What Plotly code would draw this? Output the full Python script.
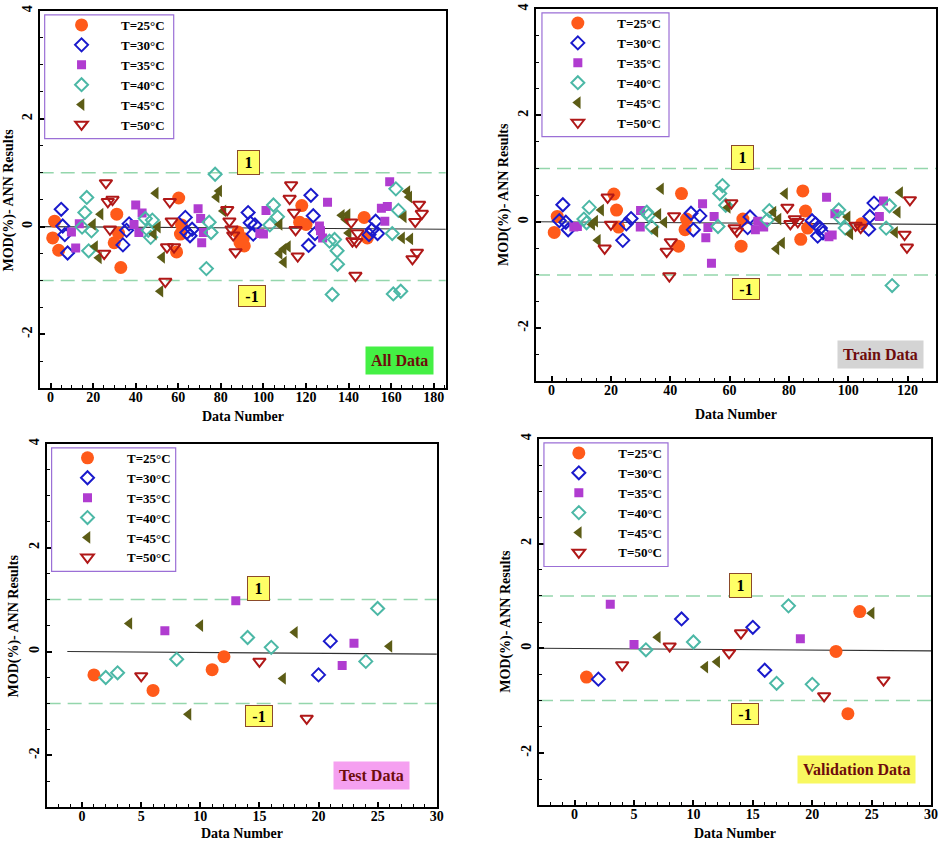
import plotly.graph_objects as go

W, H = 945, 843
FONT = "Liberation Serif"

# ------------------------------------------------------------------ data
labels = ["T=25°C", "T=30°C", "T=35°C", "T=40°C", "T=45°C", "T=50°C"]

# All Data
all_x_25 = [1.9, 1.0, 3.8, 31.1, 29.9, 33.0, 31.9, 60.2, 59.2, 61.5, 61.0, 88.0, 89.0, 90.5, 91.0, 118.0, 117.0, 120.0, 147.3, 148.8]
all_y_25 = [0.10, -0.21, -0.44, 0.23, -0.30, -0.76, -0.12, 0.53, -0.47, 0.03, -0.14, -0.10, -0.30, -0.22, -0.36, 0.39, 0.08, 0.04, 0.17, -0.21]
all_x_30 = [5.0, 5.7, 6.7, 8.0, 34.0, 35.7, 36.9, 63.3, 64.0, 65.5, 66.5, 92.8, 93.8, 95.2, 96.0, 122.3, 123.4, 124.2, 121.2, 149.6, 151.0, 152.7, 153.6]
all_y_30 = [0.32, 0.01, -0.15, -0.49, -0.34, -0.07, 0.05, 0.17, -0.11, -0.17, -0.05, 0.26, 0.07, -0.14, 0.03, 0.58, 0.20, -0.13, -0.35, -0.15, -0.06, 0.10, -0.13]
all_x_35 = [11.8, 9.8, 13.5, 40.0, 41.5, 39.2, 43.0, 69.3, 70.5, 71.0, 71.8, 101.2, 98.3, 100.0, 130.1, 126.3, 127.8, 126.8, 159.3, 155.4, 158.2, 157.0]
all_y_35 = [-0.40, -0.10, 0.05, 0.40, -0.11, 0.04, 0.25, 0.33, 0.15, -0.30, -0.11, 0.30, -0.13, -0.14, 0.45, 0.01, -0.21, -0.08, 0.83, 0.34, 0.37, 0.10]
all_x_40 = [17.0, 16.1, 14.8, 19.2, 17.9, 44.5, 47.8, 45.9, 47.0, 77.3, 74.5, 75.4, 73.2, 104.7, 106.6, 103.0, 131.0, 133.4, 134.6, 134.8, 132.3, 162.2, 163.4, 160.5, 161.0, 164.5]
all_y_40 = [0.54, 0.26, -0.01, -0.08, -0.45, 0.15, 0.12, -0.07, -0.20, 0.97, 0.08, -0.11, -0.78, 0.40, 0.18, 0.03, -0.27, -0.24, -0.45, -0.70, -1.26, 0.70, 0.30, -0.13, -1.25, -1.20]
all_x_45 = [23.5, 19.9, 20.9, 22.7, 49.4, 50.4, 48.5, 52.4, 51.6, 79.2, 78.0, 81.2, 107.6, 107.6, 109.5, 109.6, 111.5, 136.8, 138.7, 139.5, 140.0, 167.6, 168.5, 165.9, 165.1, 169.0]
all_y_45 = [0.23, 0.04, -0.37, -0.58, 0.62, -0.01, -0.14, -0.57, -1.20, 0.66, 0.55, 0.29, 0.04, -0.50, -0.42, -0.66, -0.37, 0.21, 0.13, 0.22, -0.12, 0.65, 0.55, 0.18, -0.21, -0.23]
all_x_50 = [26.0, 26.9, 29.1, 27.9, 25.2, 56.0, 56.9, 54.7, 58.0, 53.9, 83.0, 84.0, 85.8, 85.0, 86.9, 113.0, 112.3, 114.4, 115.1, 116.1, 141.2, 144.2, 141.8, 143.6, 143.2, 173.1, 174.4, 171.3, 172.1, 170.0]
all_y_50 = [0.81, 0.46, 0.50, -0.05, -0.50, 0.46, 0.10, -0.38, -0.38, -1.02, 0.31, 0.10, -0.16, -0.05, -0.47, 0.77, 0.52, 0.26, -0.06, -0.55, 0.08, -0.12, -0.27, -0.28, -0.91, 0.41, 0.24, 0.09, -0.48, -0.60]

# Train Data
train_x_25 = [0.9, 1.9, 21.0, 21.9, 22.6, 43.8, 42.8, 45.0, 45.5, 63.9, 64.5, 84.7, 85.6, 84.0, 86.3, 104.5]
train_y_25 = [-0.20, 0.10, 0.52, 0.22, -0.10, 0.53, -0.46, -0.15, 0.05, -0.46, 0.05, 0.58, 0.20, -0.33, -0.12, -0.04]
train_x_30 = [2.6, 3.8, 4.8, 5.6, 24.0, 25.2, 26.8, 47.0, 47.8, 50.0, 66.1, 66.9, 87.8, 89.0, 89.7, 90.6, 91.5, 108.7, 107.3, 106.9]
train_y_30 = [0.02, 0.32, -0.01, -0.15, -0.35, -0.04, 0.06, 0.16, -0.15, 0.11, -0.11, 0.09, 0.02, -0.04, -0.27, -0.12, -0.21, 0.35, 0.10, -0.14]
train_x_35 = [7.5, 8.7, 30.0, 29.9, 50.9, 52.0, 52.7, 54.8, 53.9, 69.5, 68.7, 71.5, 92.7, 95.5, 94.6, 93.5, 110.5, 111.9]
train_y_35 = [-0.10, -0.09, 0.21, -0.10, 0.34, -0.30, -0.11, 0.10, -0.78, 0.01, -0.15, -0.10, 0.46, 0.15, -0.25, -0.28, 0.10, 0.39]
train_x_40 = [10.9, 12.7, 11.8, 32.1, 32.7, 33.8, 57.6, 56.7, 58.7, 56.1, 73.4, 72.7, 96.8, 97.4, 99.0, 113.9, 112.8, 114.8]
train_y_40 = [0.05, 0.27, -0.02, 0.18, 0.12, -0.10, 0.68, 0.53, 0.31, -0.09, 0.21, 0.03, 0.22, 0.07, -0.12, 0.30, -0.12, -1.20]
train_x_45 = [13.7, 14.7, 16.7, 15.6, 36.9, 36.0, 35.0, 38.0, 59.4, 74.8, 76.5, 78.7, 75.8, 77.7, 99.8, 100.7, 117.5, 116.7, 115.8]
train_y_45 = [-0.05, 0.01, 0.22, -0.35, 0.62, 0.14, -0.18, -0.01, 0.27, 0.18, 0.05, 0.53, -0.51, -0.40, 0.09, -0.23, 0.55, 0.18, -0.20]
train_x_50 = [18.9, 20.0, 17.9, 38.8, 40.2, 39.7, 41.3, 60.6, 61.7, 62.5, 79.5, 80.5, 82.0, 83.0, 102.5, 104.2, 120.8, 119.0, 119.8]
train_y_50 = [0.46, -0.05, -0.50, -0.56, -0.38, -1.02, 0.11, 0.35, -0.12, -0.18, 0.27, -0.04, 0.05, 0.00, -0.07, -0.11, 0.41, -0.24, -0.48]

# Test Data
test_x_25 = [1, 6, 11, 12]
test_y_25 = [-0.45, -0.75, -0.35, -0.10]
test_x_30 = [20, 21]
test_y_30 = [-0.45, 0.20]
test_x_35 = [7, 13, 22, 23]
test_y_35 = [0.40, 0.98, -0.27, 0.16]
test_x_40 = [2, 3, 8, 14, 16, 24, 25]
test_y_40 = [-0.50, -0.41, -0.15, 0.27, 0.08, -0.19, 0.83]
test_x_45 = [4, 9, 10, 17, 18, 26]
test_y_45 = [0.54, -1.21, 0.50, -0.52, 0.37, 0.10]
test_x_50 = [5, 15, 19]
test_y_50 = [-0.47, -0.19, -1.29]

# Validation Data
val_x_25 = [1, 22, 23, 24]
val_y_25 = [-0.55, -0.06, -1.25, 0.70]
val_x_30 = [2, 9, 15, 16]
val_y_30 = [-0.59, 0.56, 0.40, -0.42]
val_x_35 = [3, 5, 19]
val_y_35 = [0.84, 0.07, 0.18]
val_x_40 = [6, 10, 17, 18, 20]
val_y_40 = [-0.03, 0.12, -0.67, 0.81, -0.69]
val_x_45 = [7, 11, 12, 25]
val_y_45 = [0.21, -0.36, -0.26, 0.67]
val_x_50 = [4, 8, 13, 14, 21, 26]
val_y_50 = [-0.32, 0.04, -0.09, 0.29, -0.91, -0.61]

y_tickvals = [-2, 0, 2, 4]
y_ticktext = ["-2", "0", "2", "4"]
panel_names = ["All Data", "Train Data", "Test Data", "Validation Data"]

# ------------------------------------------------------------------ styles
styles = [
    dict(symbol="circle", color="#ff5a1a", size=13, lw=0),
    dict(symbol="diamond-open", color="#1a1acc", size=10, lw=2),
    dict(symbol="square", color="#b03cd0", size=9, lw=0),
    dict(symbol="diamond-open", color="#4cb8a6", size=10, lw=2),
    dict(symbol="triangle-left", color="#5c5c16", size=11, lw=0),
    dict(symbol="triangle-down-open", color="#b01818", size=11, lw=2),
]

panels = [
    dict(xs=[all_x_25, all_x_30, all_x_35, all_x_40, all_x_45, all_x_50],
         ys=[all_y_25, all_y_30, all_y_35, all_y_40, all_y_45, all_y_50],
         box=(40, 449, 5, 385), xr=[-5.1, 185.6], dt=20, mdt=5,
         one=(93, 1.18), mone=(94.7, -1.29), bg="#44f044", lab=(402, 357),
         leg_box=(45, 175, 9), mark_px=82,
         xt=(244.5, 413), yt=(9, 195), zx0=0.0),
    dict(xs=[train_x_25, train_x_30, train_x_35, train_x_40, train_x_45, train_x_50],
         ys=[train_y_25, train_y_30, train_y_35, train_y_40, train_y_45, train_y_50],
         box=(540, 943, 3, 378), xr=[-5.25, 129.6], dt=20, mdt=5,
         one=(64.4, 1.20), mone=(65.6, -1.26), bg="#d4d4d4", lab=(887, 351),
         leg_box=(546, 674, 7), mark_px=582,
         xt=(741.5, 411), yt=(507, 190), zx0=0.0),
    dict(xs=[test_x_25, test_x_30, test_x_35, test_x_40, test_x_45, test_x_50],
         ys=[test_y_25, test_y_30, test_y_35, test_y_40, test_y_45, test_y_50],
         box=(47, 440, 441, 807), xr=[-3, 30], dt=5, mdt=1,
         one=(14.9, 1.22), mone=(15.0, -1.24), bg="#f5a0f0", lab=(374, 775),
         leg_box=(52, 177, 445), mark_px=88,
         xt=(243.5, 833), yt=(14, 624), zx0=0.053),
    dict(xs=[val_x_25, val_x_30, val_x_35, val_x_40, val_x_45, val_x_50],
         ys=[val_y_25, val_y_30, val_y_35, val_y_40, val_y_45, val_y_50],
         box=(543, 938, 436, 805), xr=[-3, 30], dt=5, mdt=1,
         one=(14.0, 1.20), mone=(14.3, -1.25), bg="#f8f860", lab=(863, 769),
         leg_box=(548, 673, 440), mark_px=583,
         xt=(740.5, 833), yt=(509, 620), zx0=0.0),
]

fig = go.Figure()
shapes, annos = [], []
LEG_FONT = 13
ROW = max(LEG_FONT * 1.3, 16) + 3
PAD = "\u00a0" * 6  # gap between legend symbol and its text, as in the reference

for i, p in enumerate(panels):
    n = "" if i == 0 else str(i + 1)
    xa, ya = "x" + n, "y" + n
    lg = "legend" + n
    for k in range(6):
        s = styles[k]
        fig.add_trace(go.Scatter(
            x=p["xs"][k], y=p["ys"][k], mode="markers", name=PAD + labels[k],
            xaxis=xa, yaxis=ya, legend=lg, showlegend=True,
            marker=dict(symbol=s["symbol"], color=s["color"], size=s["size"],
                        line=dict(width=s["lw"], color=s["color"])),
        ))
    x0, x1, y0, y1 = p["box"]
    axfont = dict(family=FONT, size=14, color="black", weight="bold")
    fig.update_layout(**{
        "xaxis" + n: dict(domain=[x0 / W, x1 / W], anchor=ya, range=p["xr"],
                          dtick=p["dt"], tick0=0, ticks="inside", ticklen=5, tickwidth=2,
                          tickcolor="black", showline=True, linewidth=2, linecolor="black",
                          mirror=True, showgrid=False, zeroline=False, tickfont=axfont,
                          ticklabelstandoff=-5,
                          minor=dict(dtick=p["mdt"], ticks="inside", ticklen=3, tickwidth=1,
                                     tickcolor="black")),
        "yaxis" + n: dict(domain=[1 - y1 / H, 1 - y0 / H], anchor=xa, range=[-3, 4],
                          tickvals=y_tickvals, ticktext=y_ticktext, tickangle=-90,
                          ticks="inside", ticklen=5, tickwidth=2, tickcolor="black",
                          showline=True, linewidth=2, linecolor="black", mirror=True,
                          showgrid=False, zeroline=False, tickfont=axfont,
                          minor=dict(dtick=0.5, tick0=0, ticks="inside", ticklen=3, tickwidth=1,
                                     tickcolor="black")),
    })
    # legend
    lx0, lx1, ly0 = p["leg_box"]
    first_row = ly0 + 15
    fig.update_layout(**{
        lg: dict(x=(p["mark_px"] - 20) / W, xanchor="left",
                 y=1 - (first_row - 10 - ROW / 2) / H, yanchor="top",
                 bgcolor="rgba(0,0,0,0)", borderwidth=0,
                 font=dict(family=FONT, size=LEG_FONT, color="black", weight="bold"),
                 tracegroupgap=0, itemclick=False),
    })
    shapes.append(dict(type="rect", xref="paper", yref="paper",
                       x0=lx0 / W, x1=lx1 / W, y0=1 - (first_row + 5 * ROW + 10) / H,
                       y1=1 - ly0 / H, line=dict(color="#9b6fd6", width=1.2),
                       fillcolor="rgba(0,0,0,0)", layer="above"))
    # reference lines
    for yv in (1, -1):
        shapes.append(dict(type="line", xref=xa + " domain", yref=ya, x0=0, x1=1,
                           y0=yv, y1=yv, line=dict(color="#94d6ac", width=1.5, dash="14px,7px"),
                           layer="below"))
    shapes.append(dict(type="line", xref=xa + " domain", yref=ya, x0=p["zx0"], x1=1,
                       y0=0, y1=-0.05, line=dict(color="#303030", width=1.2), layer="below"))
    # 1 / -1 boxes
    annos.append(dict(x=p["one"][0], y=p["one"][1], xref=xa, yref=ya, text="1",
                      xanchor="center", yanchor="middle",
                      showarrow=False, bgcolor="#ffff66", bordercolor="#8b4a2a", borderwidth=1,
                      width=17, height=19, borderpad=2,
                      font=dict(family=FONT, size=16, color="black", weight="bold")))
    annos.append(dict(x=p["mone"][0], y=p["mone"][1], xref=xa, yref=ya, text="-1",
                      xanchor="center", yanchor="middle",
                      showarrow=False, bgcolor="#ffff66", bordercolor="#8b4a2a", borderwidth=1,
                      width=22, height=16, borderpad=2,
                      font=dict(family=FONT, size=16, color="black", weight="bold")))
    # panel label
    annos.append(dict(x=p["lab"][0] / W, y=1 - p["lab"][1] / H, xref="paper", yref="paper",
                      xanchor="center", yanchor="middle",
                      text=panel_names[i], showarrow=False, bgcolor=p["bg"], borderpad=5,
                      font=dict(family=FONT, size=16, color="#6e0c0c", weight="bold")))
    # axis titles
    annos.append(dict(x=p["xt"][0] / W, y=1 - p["xt"][1] / H, xref="paper", yref="paper",
                      xanchor="center", yanchor="middle",
                      text="Data Number", showarrow=False,
                      font=dict(family=FONT, size=14, color="black", weight="bold")))
    annos.append(dict(x=p["yt"][0] / W, y=1 - p["yt"][1] / H, xref="paper", yref="paper",
                      xanchor="center", yanchor="middle",
                      text="MOD(%)- ANN Results", showarrow=False, textangle=-90,
                      font=dict(family=FONT, size=14, color="black", weight="bold")))

fig.update_layout(width=W, height=H, margin=dict(l=0, r=0, t=0, b=0),
                  paper_bgcolor="white", plot_bgcolor="white",
                  shapes=shapes, annotations=annos, showlegend=True,
                  font=dict(family=FONT, color="black"))
fig.write_html("out.html")
